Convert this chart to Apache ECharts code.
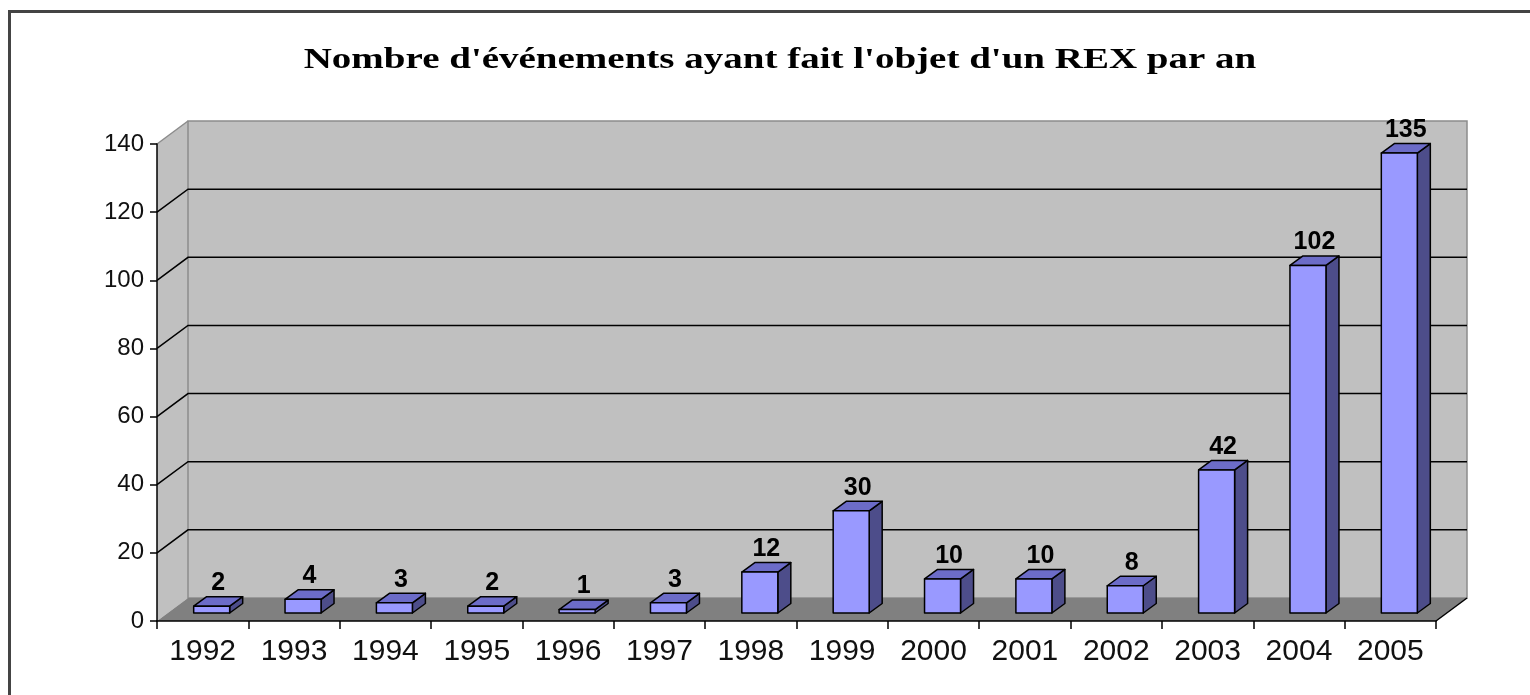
<!DOCTYPE html>
<html>
<head>
<meta charset="utf-8">
<script src="https://cdn.jsdelivr.net/npm/echarts@6.0.0/dist/echarts.min.js"></script>
<style>
  html, body { margin: 0; padding: 0; background: #fff; }
  #main { width: 1530px; height: 695px; }
</style>
</head>
<body>
<div id="main"></div>
<script>
var years = ['1992', '1993', '1994', '1995', '1996', '1997', '1998', '1999', '2000', '2001', '2002', '2003', '2004', '2005'];
var counts = [2, 4, 3, 2, 1, 3, 12, 30, 10, 10, 8, 42, 102, 135];
var yTicks = [0, 20, 40, 60, 80, 100, 120, 140];
var titleText = "Nombre d'événements ayant fait l'objet d'un REX par an";

// fake 3d: offset of back wall, and of the bar's side/top
var wallDX = 31, wallDY = -23;
var barOffX = 9, barOffY = -8, barHalf = 18, barDX = 13, barDY = -9.5;

var chartDom = document.getElementById('main');
var myChart = echarts.init(chartDom);

function renderFrame(params, api) {
  var cs = params.coordSys;
  var x0 = cs.x, x1 = cs.x + cs.width;
  var yBot = api.coord([0, yTicks[0]])[1];
  var yTop = api.coord([0, yTicks[yTicks.length - 1]])[1];
  var kids = [];
  // side wall
  kids.push({
    type: 'polygon',
    shape: { points: [[x0, yTop], [x0 + wallDX, yTop + wallDY], [x0 + wallDX, yBot + wallDY], [x0, yBot]] },
    style: { fill: '#c0c0c0' }
  });
  // back wall
  kids.push({
    type: 'rect',
    shape: { x: x0 + wallDX, y: yTop + wallDY, width: x1 - x0, height: yBot - yTop },
    style: { fill: '#c0c0c0', stroke: '#8c8c8c', lineWidth: 1.5 }
  });
  // floor
  kids.push({
    type: 'polygon',
    shape: { points: [[x0, yBot], [x0 + wallDX, yBot + wallDY], [x1 + wallDX, yBot + wallDY], [x1, yBot]] },
    style: { fill: '#808080' }
  });
  kids.push({
    type: 'line',
    shape: { x1: x1, y1: yBot, x2: x1 + wallDX, y2: yBot + wallDY },
    style: { stroke: '#000', lineWidth: 1.5 }
  });
  // gridlines on side + back wall
  for (var k = 1; k < yTicks.length; k++) {
    var y = api.coord([0, yTicks[k]])[1];
    var last = k === yTicks.length - 1;
    kids.push({
      type: 'polyline',
      shape: { points: last ? [[x0, y], [x0 + wallDX, y + wallDY]] : [[x0, y], [x0 + wallDX, y + wallDY], [x1 + wallDX, y + wallDY]] },
      style: { stroke: last ? '#8c8c8c' : '#000', lineWidth: 1.5, fill: null }
    });
  }
  return { type: 'group', children: kids };
}

function renderBar(params, api) {
  var i = api.value(0), v = api.value(1);
  var base = api.coord([i, 0]);
  var top = api.coord([i, v]);
  var cx = base[0] + barOffX;
  var xl = cx - barHalf, xr = cx + barHalf;
  var yb = base[1] + barOffY, yt = top[1] + barOffY;
  var edge = { stroke: '#000', lineWidth: 1.5, lineJoin: 'round' };
  return {
    type: 'group',
    children: [
      {
        type: 'polygon',
        shape: { points: [[xr, yt], [xr + barDX, yt + barDY], [xr + barDX, yb + barDY], [xr, yb]] },
        style: Object.assign({ fill: '#4d4d8a' }, edge)
      },
      {
        type: 'polygon',
        shape: { points: [[xl, yt], [xl + barDX, yt + barDY], [xr + barDX, yt + barDY], [xr, yt]] },
        style: Object.assign({ fill: '#6c6cc8' }, edge)
      },
      {
        type: 'rect',
        shape: { x: xl, y: yt, width: xr - xl, height: yb - yt },
        style: Object.assign({ fill: '#9999ff' }, edge)
      },
      {
        type: 'text',
        style: {
          text: String(v),
          x: cx + barDX / 2,
          y: yt + barDY - 13.5,
          align: 'center', verticalAlign: 'middle',
          textAlign: 'center', textVerticalAlign: 'middle',
          fontSize: 25, fontWeight: 'bold', fontFamily: '"Liberation Sans", Arial, sans-serif',
          fill: '#000'
        }
      }
    ]
  };
}

var option = {
  backgroundColor: '#fff',
  animation: false,
  graphic: [
    {
      type: 'rect',
      z: -10,
      shape: { x: 9.5, y: 11.5, width: 1600, height: 800 },
      style: { fill: null, stroke: '#444', lineWidth: 3 }
    },
    {
      // title, stretched wide like the original
      type: 'text',
      x: 780,
      y: 60,
      scaleX: 1.3,
      style: {
        text: titleText,
        x: 0, y: 0,
        align: 'center', verticalAlign: 'middle',
        textAlign: 'center', textVerticalAlign: 'middle',
        fontSize: 30, fontWeight: 'bold', fontFamily: '"Liberation Serif", "Times New Roman", serif',
        fill: '#000'
      }
    }
  ],
  grid: { left: 157, top: 144, width: 1279, height: 477, containLabel: false, outerBoundsMode: 'none' },
  xAxis: {
    type: 'category',
    data: years,
    boundaryGap: true,
    z: 10,
    axisLine: { show: true, lineStyle: { color: '#000', width: 1.5 } },
    axisTick: { show: true, length: 8, lineStyle: { color: '#000', width: 1.5 } },
    axisLabel: { interval: 0, margin: 16, fontSize: 30, color: '#111', fontFamily: '"Liberation Sans", Arial, sans-serif' },
    splitLine: { show: false }
  },
  yAxis: {
    type: 'value',
    min: 0,
    max: 140,
    interval: 20,
    z: 10,
    axisLine: { show: true, lineStyle: { color: '#000', width: 1.5 } },
    axisTick: { show: true, length: 7, lineStyle: { color: '#000', width: 1.5 } },
    axisLabel: { margin: 13, fontSize: 24, color: '#111', fontFamily: '"Liberation Sans", Arial, sans-serif' },
    splitLine: { show: false }
  },
  series: [
    {
      type: 'custom',
      name: 'frame',
      z: 1,
      silent: true,
      renderItem: renderFrame,
      data: [[0, 0]]
    },
    {
      type: 'custom',
      name: 'REX',
      z: 3,
      renderItem: renderBar,
      encode: { x: 0, y: 1 },
      data: counts.map(function (c, i) { return [i, c]; })
    }
  ]
};

option && myChart.setOption(option);
</script>
</body>
</html>
